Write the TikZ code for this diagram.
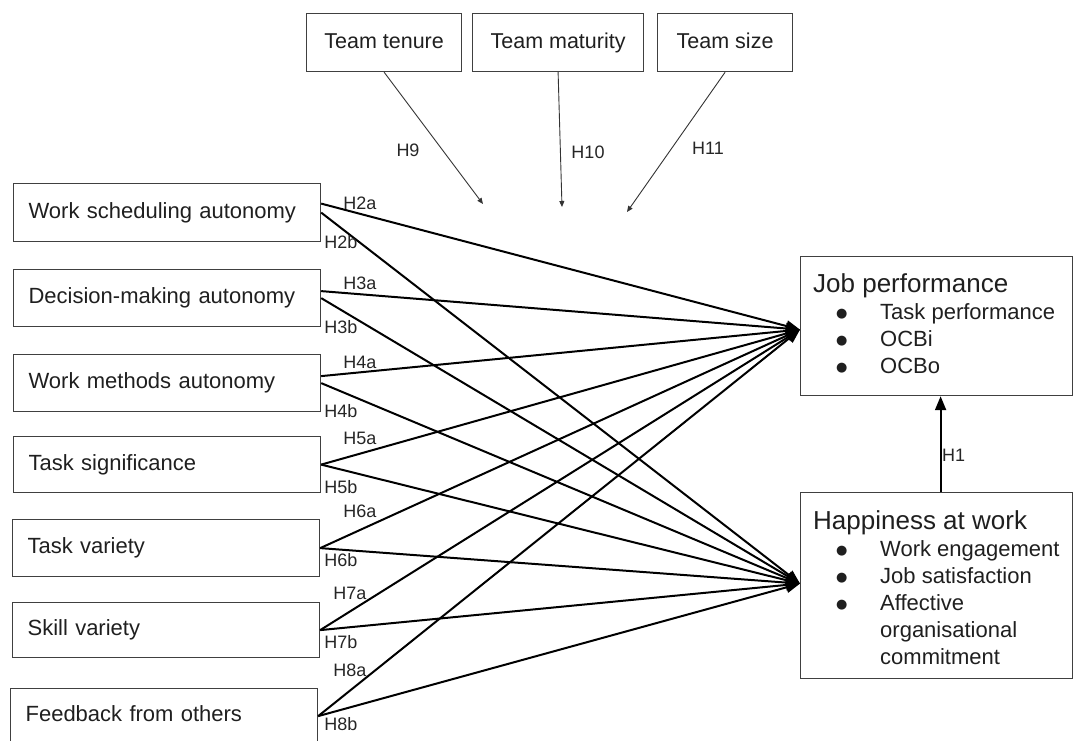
\documentclass[tikz,border=0pt]{standalone}
\usepackage{fontspec}
\setmainfont{Liberation Sans}
\newfontfamily\symfnt{DejaVu Sans}
\usetikzlibrary{arrows.meta}
\begin{document}
\begin{tikzpicture}[x=1pt,y=-1pt,
  box/.style={draw=black!75, line width=1.2pt, rectangle, inner sep=0pt, text=black!88},
  lbox/.style={box, anchor=north west, align=left, text width=277pt, inner xsep=15pt,
    minimum height=#1, text height=15.8pt, text depth=4.6pt, font=\fontsize{22}{26}\selectfont},
  tbox/.style={box, anchor=north west, align=center, minimum height=58pt, minimum width=#1,
    text height=15.8pt, text depth=4.6pt, font=\fontsize{21.5}{26}\selectfont},
  rbox/.style={box, anchor=north west, minimum width=272pt, minimum height=#1},
  rtitle/.style={anchor=base west, inner sep=0pt, text=black!88, font=\fontsize{26}{30}\selectfont},
  ritem/.style={anchor=base west, inner sep=0pt, text=black!88, font=\fontsize{22}{26}\selectfont},
  hlab/.style={inner sep=0pt, text=black!85, font=\fontsize{18}{20}\selectfont},
  conn/.style={line width=2pt, black, -{Triangle[length=14pt,width=11pt]}},
  tarrow/.style={line width=0.9pt, black!80, -{Triangle[length=6pt,width=5pt]}}
]
\useasboundingbox (0,0) rectangle (1073,740);
\clip (0,0) rectangle (1073,740);
\newcommand{\bul}{\makebox[44pt][l]{\raisebox{1.5pt}{\symfnt\fontsize{13}{13}\selectfont ●}}}

% left boxes
\node[lbox=58pt] (b1) at (13,183) {Work scheduling autonomy};
\node[lbox=57pt] (b2) at (13,269) {Decision-making autonomy};
\node[lbox=57pt] (b3) at (13,354) {Work methods autonomy};
\node[lbox=56pt] (b4) at (13,436) {Task significance};
\node[lbox=57pt] (b5) at (12,519) {Task variety};
\node[lbox=55pt] (b6) at (12,602) {Skill variety};
\node[lbox=55pt] (b7) at (10,688) {Feedback from others};

% top boxes
\node[tbox=155pt] (t1) at (306,13) {Team tenure};
\node[tbox=171pt] (t2) at (472,13) {Team maturity};
\node[tbox=135pt] (t3) at (657,13) {Team size};

% right boxes
\node[rbox=139pt] (jp) at (800,256) {};
\node[rbox=186pt] (hw) at (800,492) {};

\node[rtitle] (jpt) at (813,292) {Job performance};
\node[ritem] (jp1) at (836,319) {\bul Task performance};
\node[ritem] (jp2) at (836,346) {\bul OCBi};
\node[ritem] (jp3) at (836,373) {\bul OCBo};

\node[rtitle] (hwt) at (813,529) {Happiness at work};
\node[ritem] (hw1) at (836,556) {\bul Work engagement};
\node[ritem] (hw2) at (836,583) {\bul Job satisfaction};
\node[ritem] (hw3) at (836,610) {\bul Affective};
\node[ritem] (hw4) at (880,637) {organisational};
\node[ritem] (hw5) at (880,664) {commitment};

% targets
\coordinate (jpin) at ([yshift=-3.5pt]jp.west);
\coordinate (hwin) at ([yshift=2pt]hw.west);

% connectors a -> job performance
\draw[conn] ([yshift=9pt]b1.east) -- (jpin);
\draw[conn] ([yshift=7pt]b2.east) -- (jpin);
\draw[conn] ([yshift=7pt]b3.east) -- (jpin);
\draw[conn] (b4.east) -- (jpin);
\draw[conn] (b5.east) -- (jpin);
\draw[conn] (b6.east) -- (jpin);
\draw[conn] (b7.east) -- (jpin);
% connectors b -> happiness
\draw[conn] (b1.east) -- (hwin);
\draw[conn] (b2.east) -- (hwin);
\draw[conn] (b3.east) -- (hwin);
\draw[conn] (b4.east) -- (hwin);
\draw[conn] (b5.east) -- (hwin);
\draw[conn] (b6.east) -- (hwin);
\draw[conn] (b7.east) -- (hwin);

% H1
\draw[conn] ([xshift=4pt]hw.north) -- ([xshift=4pt]jp.south);
\node[hlab, anchor=west] (h1) at (942,455) {H1};

% moderators
\coordinate (m1) at (483,204);
\coordinate (m2) at (562,207);
\coordinate (m3) at (627,212);
\draw[tarrow] (t1.south) -- (m1);
\draw[tarrow] (t2.south) -- (m2);
\draw[tarrow] (t3.south) -- (m3);
\node[hlab] (h9) at (408,150) {H9};
\node[hlab] (h10) at (588,152) {H10};
\node[hlab] (h11) at (708,148) {H11};

% hypothesis labels
\node[hlab] (l2a) at (360,203) {H2a};
\node[hlab] (l2b) at (341,242) {H2b};
\node[hlab] (l3a) at (360,283) {H3a};
\node[hlab] (l3b) at (341,327) {H3b};
\node[hlab] (l4a) at (360,362) {H4a};
\node[hlab] (l4b) at (341,411) {H4b};
\node[hlab] (l5a) at (360,438) {H5a};
\node[hlab] (l5b) at (341,487) {H5b};
\node[hlab] (l6a) at (360,511) {H6a};
\node[hlab] (l6b) at (341,560) {H6b};
\node[hlab] (l7a) at (350,593) {H7a};
\node[hlab] (l7b) at (341,642) {H7b};
\node[hlab] (l8a) at (350,670) {H8a};
\node[hlab] (l8b) at (341,724) {H8b};
\end{tikzpicture}
\end{document}
